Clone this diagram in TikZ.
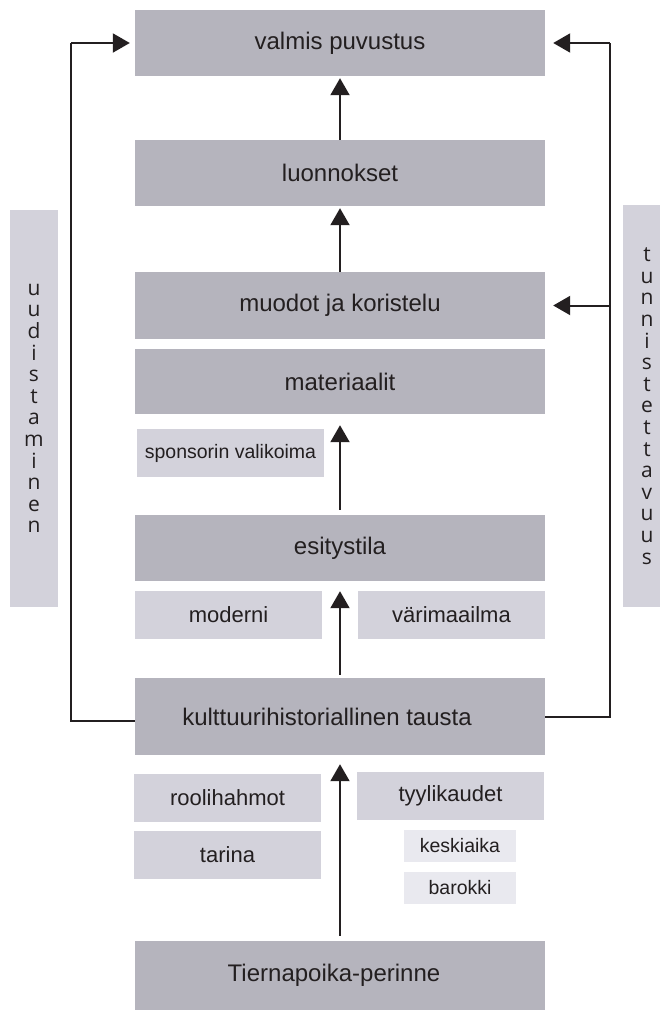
\documentclass[tikz,border=0pt]{standalone}
\usepackage{fontspec}
\setmainfont{Liberation Sans}
\newfontfamily\sidefont{Open Sans}
\usetikzlibrary{arrows.meta}
\definecolor{darkbox}{HTML}{B5B4BD}
\definecolor{lightbox}{HTML}{D3D2DB}
\definecolor{palebox}{HTML}{E9E9EF}
\definecolor{ink}{HTML}{231F20}
\begin{document}
\begin{tikzpicture}[x=1pt,y=-1pt,
  bigbox/.style={fill=darkbox, draw=none, minimum width=410pt, inner sep=0pt, text=ink, font=\fontsize{24}{28}\selectfont},
  midbox/.style={fill=lightbox, draw=none, minimum width=187pt, minimum height=48pt, inner sep=0pt, text=ink, font=\fontsize{22}{26}\selectfont},
  smallbox/.style={fill=lightbox, draw=none, minimum width=187pt, minimum height=48pt, inner sep=0pt, text=ink, font=\fontsize{19.5}{23}\selectfont},
  tinybox/.style={fill=palebox, draw=none, minimum width=112pt, minimum height=32pt, inner sep=0pt, text=ink, font=\fontsize{19.5}{23}\selectfont},
  sidebar/.style={fill=lightbox, draw=none, minimum width=48pt, inner sep=0pt, text=ink, align=center, font=\sidefont\fontsize{21}{21.6}\selectfont},
  conn/.style={draw=ink, line width=2pt},
  arrowline/.style={conn, -{Triangle[length=17pt,width=19pt]}}
]
\useasboundingbox (0,0) rectangle (660,1012);

% main column
\node[bigbox, minimum height=66pt] (valmis) at (340,43) {valmis puvustus};
\node[bigbox, minimum height=66pt] (luon) at (340,173) {luonnokset};
\node[bigbox, minimum height=67pt] (muodot) at (340,305.5) {muodot ja koristelu};
\node[bigbox, minimum height=65pt] (mat) at (340,381.5) {materiaalit};
\node[smallbox] (spons) at (230.5,453) {sponsorin valikoima};
\node[bigbox, minimum height=66pt] (esit) at (340,548) {esitystila};
\node[midbox] (mod) at (228.5,615) {moderni};
\node[midbox] (vari) at (451.5,615) {värimaailma};
\node[bigbox, minimum height=77pt] (kult) at (340,716.5) {\hspace*{-26pt}kulttuurihistoriallinen tausta};
\node[midbox] (rool) at (227.5,798) {roolihahmot};
\node[midbox] (tar) at (227.5,855) {tarina};
\node[midbox] (tyyli) at (450.5,796) {tyylikaudet};
\node[tinybox] (kesk) at (460,846) {keskiaika};
\node[tinybox] (bar) at (460,888) {barokki};
\node[bigbox, minimum height=69pt] (tier) at (340,975.5) {\hspace*{-12pt}Tiernapoika-perinne};

% side bars
\node[sidebar, minimum height=397pt] (ltab) at (34,408.5) {u\\u\\d\\i\\s\\t\\a\\m\\i\\n\\e\\n};
\node[sidebar, minimum height=402pt] (rtab) at (647,406) {t\\u\\n\\n\\i\\s\\t\\e\\t\\t\\a\\v\\u\\u\\s};

% connectors
\coordinate (ltop) at (71,43);
\coordinate (rtop) at (610,43);
\coordinate (rmid) at (rtop |- muodot.east);
\draw[conn] ([yshift=-4pt]kult.west) -| (ltop);
\draw[arrowline, shorten >=5pt] (ltop) -- (valmis.west);
\draw[conn] (kult.east) -| (rtop);
\draw[arrowline, shorten >=8pt] (rtop) -- (valmis.east);
\draw[arrowline, shorten >=8pt] (rmid) -- (muodot.east);

\draw[arrowline, shorten >=2pt] (luon.north) -- (valmis.south);
\draw[arrowline, shorten >=2pt] (muodot.north) -- (luon.south);
\draw[arrowline, shorten >=11pt, shorten <=5pt] (esit.north) -- (mat.south);
\draw[arrowline, shorten >=10pt, shorten <=3pt] (kult.north) -- (esit.south);
\draw[arrowline, shorten >=9pt, shorten <=5pt] (tier.north) -- (kult.south);
\end{tikzpicture}
\end{document}
